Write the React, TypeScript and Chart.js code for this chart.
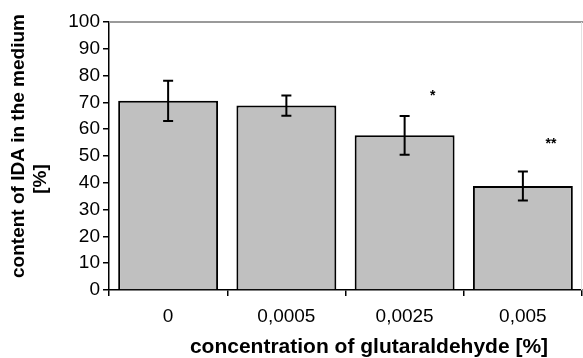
import React, { useEffect, useRef } from "react";
import { Chart, registerables } from "chart.js";

Chart.register(...registerables);

const categories = ["0", "0,0005", "0,0025", "0,005"];
const values = [70.6, 68.8, 57.7, 38.8];
const errors = [7.5, 3.8, 7.2, 5.4];
const significance = ["", "", "*", "**"];
const significanceLevel = [0, 0, 73, 55];
const yTicks = [0, 10, 20, 30, 40, 50, 60, 70, 80, 90, 100];
const yTitleLines = ["content of IDA in the medium", "[%]"];
const xTitle = "concentration of glutaraldehyde [%]";

const FONT = "'Liberation Sans', Arial, Helvetica, sans-serif";

const extrasPlugin = {
  id: "extras",
  afterDatasetsDraw(chart: any) {
    const ctx = chart.ctx;
    const y = chart.scales.y;
    const meta = chart.getDatasetMeta(0);
    const area = chart.chartArea;
    ctx.save();
    // plot frame (gray top and right)
    ctx.strokeStyle = "#9a9a9a";
    ctx.lineWidth = 2;
    ctx.beginPath();
    ctx.moveTo(area.left, area.top);
    ctx.lineTo(chart.width, area.top);
    ctx.stroke();
    ctx.strokeStyle = "#e2e2e2";
    ctx.lineWidth = 1;
    ctx.beginPath();
    ctx.moveTo(area.right - 0.5, area.top);
    ctx.lineTo(area.right - 0.5, area.bottom);
    ctx.stroke();
    // error bars
    ctx.strokeStyle = "#000";
    ctx.lineWidth = 2;
    meta.data.forEach((bar: any, i: number) => {
      const x = bar.x;
      const yt = y.getPixelForValue(values[i] + errors[i]);
      const yb = y.getPixelForValue(values[i] - errors[i]);
      ctx.beginPath();
      ctx.moveTo(x, yt);
      ctx.lineTo(x, yb);
      ctx.moveTo(x - 5, yt);
      ctx.lineTo(x + 5, yt);
      ctx.moveTo(x - 5, yb);
      ctx.lineTo(x + 5, yb);
      ctx.stroke();
      if (significance[i]) {
        ctx.fillStyle = "#000";
        ctx.font = "bold 14px " + FONT;
        ctx.textAlign = "center";
        ctx.textBaseline = "middle";
        ctx.fillText(significance[i], x + 28, y.getPixelForValue(significanceLevel[i]) + 2);
      }
    });
    // axis titles
    ctx.fillStyle = "#000";
    ctx.textAlign = "center";
    ctx.textBaseline = "middle";
    ctx.font = "bold 21px " + FONT;
    ctx.fillText(xTitle, 369, 347);
    ctx.save();
    ctx.translate(19, 146);
    ctx.rotate(-Math.PI / 2);
    ctx.font = "bold 19px " + FONT;
    ctx.fillText(yTitleLines[0], 0, 0);
    ctx.restore();
    ctx.save();
    ctx.translate(41, 179);
    ctx.rotate(-Math.PI / 2);
    ctx.font = "bold 19px " + FONT;
    ctx.fillText(yTitleLines[1], 0, 0);
    ctx.restore();
    ctx.restore();
  },
};

export default function App() {
  const ref = useRef<HTMLCanvasElement | null>(null);
  useEffect(() => {
    if (!ref.current) return;
    const chart = new Chart(ref.current, {
      type: "bar",
      data: {
        labels: categories,
        datasets: [
          {
            data: values,
            backgroundColor: "#c0c0c0",
            borderColor: "#000",
            borderWidth: 2,
            barPercentage: 0.845,
            categoryPercentage: 1,
          },
        ],
      },
      options: {
        animation: false,
        responsive: false,
        devicePixelRatio: 1,
        layout: { padding: { top: 22, right: 1, left: 0, bottom: 0 } },
        plugins: { legend: { display: false }, tooltip: { enabled: false } },
        scales: {
          y: {
            min: 0,
            max: 100,
            afterBuildTicks: (s: any) => {
              s.ticks = yTicks.map((v) => ({ value: v }));
            },
            afterFit: (s: any) => {
              s.width = 109;
            },
            ticks: {
              color: "#000",
              font: { family: FONT, size: 19 },
              padding: 3,
            },
            grid: {
              drawOnChartArea: false,
              drawTicks: true,
              tickLength: 6,
              color: "#000",
              lineWidth: 1.5,
            },
            border: { color: "#000", width: 1.5 },
          },
          x: {
            afterFit: (s: any) => {
              s.height = 68;
            },
            ticks: {
              color: "#000",
              font: { family: FONT, size: 19 },
              padding: 9,
            },
            grid: {
              offset: true,
              drawOnChartArea: false,
              drawTicks: true,
              tickLength: 6,
              color: "#000",
              lineWidth: 1.5,
            },
            border: { color: "#000", width: 1.5 },
          },
        },
      },
      plugins: [extrasPlugin],
    });
    return () => chart.destroy();
  }, []);
  return (
    <div style={{ position: "fixed", left: 0, top: 0, width: 583, height: 358, background: "#fff" }}>
      <canvas ref={ref} width={583} height={358} style={{ width: 583, height: 358 }} />
    </div>
  );
}
